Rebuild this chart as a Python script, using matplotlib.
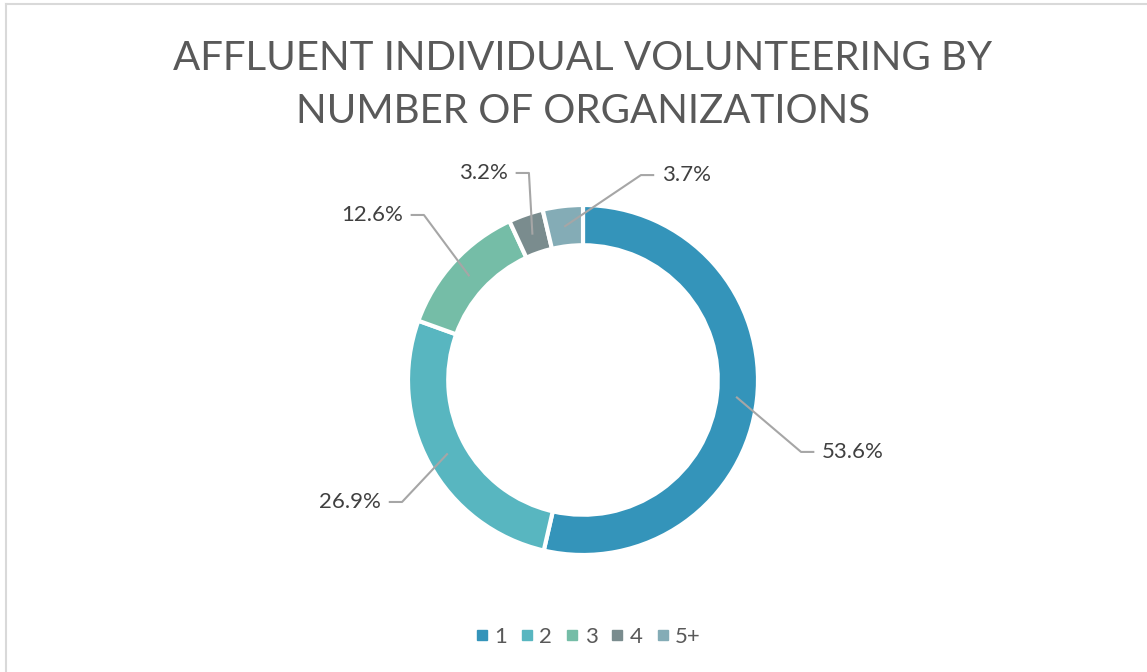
import numpy as np
import matplotlib.pyplot as plt
from matplotlib.lines import Line2D

categories = ["1", "2", "3", "4", "5+"]
shares = [53.6, 26.9, 12.6, 3.2, 3.7]
colors = ["#3494BA", "#58B6C0", "#75BDA7", "#7A8C8E", "#84ACB6"]
title = "AFFLUENT INDIVIDUAL VOLUNTEERING BY\nNUMBER OF ORGANIZATIONS"

# label text anchor (in ring radii, relative to centre) and which side the line enters
label_pos = [(1.366, -0.411), (-1.154, -0.697), (-1.029, 0.943), (-0.429, 1.183), (0.451, 1.171)]
label_side = ["left", "right", "right", "right", "left"]

plt.rcParams['font.family'] = ['Lato', 'DejaVu Sans']

W, H = 1147, 672
cx, cy, R = 583, 380, 175

fig = plt.figure(figsize=(W / 100, H / 100), dpi=100)
ax = fig.add_axes([0, 0, 1, 1])

wedges, _ = ax.pie(shares, colors=colors, startangle=90, counterclock=False,
                   radius=1, wedgeprops=dict(width=0.23, edgecolor="white", linewidth=3))
ax.set_xlim(-cx / R, (W - cx) / R)
ax.set_ylim(-(H - cy) / R, cy / R)
ax.set_aspect("auto")
ax.axis("off")

# leader lines + labels
gap, seg = 0.05, 0.07
for w, val, (lx, ly), side in zip(wedges, shares, label_pos, label_side):
    mid = np.deg2rad((w.theta1 + w.theta2) / 2)
    px, py = 0.885 * np.cos(mid), 0.885 * np.sin(mid)
    if side == "left":
        ex = lx - gap
        ax.plot([px, ex - seg, ex], [py, ly, ly], color="#A6A6A6", lw=1.5)
        ax.text(lx, ly, f"{val:.1f}%", ha="left", va="center", fontsize=16, color="#404040")
    else:
        ex = lx + gap
        ax.plot([px, ex + seg, ex], [py, ly, ly], color="#A6A6A6", lw=1.5)
        ax.text(lx, ly, f"{val:.1f}%", ha="right", va="center", fontsize=16, color="#404040")

fig.text(583 / W, 1 - 85 / H, title, ha="center", va="center", fontsize=29,
         color="#595959", linespacing=1.55)

handles = [Line2D([], [], marker="s", linestyle="", markersize=6.5, color=c) for c in colors]
fig.legend(handles, categories, loc="center", bbox_to_anchor=(588 / W, 1 - 637 / H), ncol=5,
           frameon=False, fontsize=16, handletextpad=0.25, columnspacing=0.6,
           labelcolor="#595959", handlelength=0.6)

# chart border
fig.add_artist(plt.Line2D([6 / W, 6 / W], [0, 1 - 4 / H], color="#D9D9D9", lw=1.5))
fig.add_artist(plt.Line2D([6 / W, 1], [1 - 4 / H, 1 - 4 / H], color="#D9D9D9", lw=1.5))

fig.savefig("out.png", dpi=100, facecolor="white")
